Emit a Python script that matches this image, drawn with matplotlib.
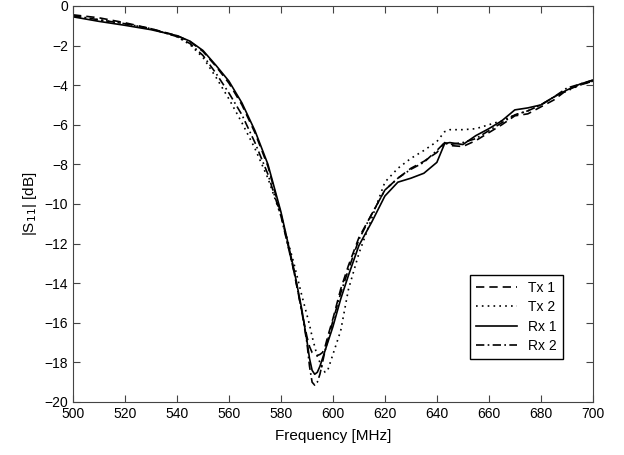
import matplotlib
matplotlib.use("Agg")
import matplotlib.pyplot as plt

plt.rcParams["font.family"] = ["Liberation Sans", "DejaVu Sans"]

freq = [500, 510, 520, 530, 540, 545, 550, 555, 560, 565, 570, 575, 580, 585, 588,
        590, 591, 592, 593, 594, 595, 596, 597, 598, 600, 603, 606, 610, 615, 620, 625, 630,
        635, 640, 643, 645, 650, 655, 660, 665, 670, 675, 680, 685, 690, 695, 700]

tx1 = [-0.45, -0.6, -0.85, -1.15, -1.5, -1.8, -2.3, -3.05, -3.9, -5.0, -6.4, -8.1, -10.5, -13.4, -15.4,
       -16.7, -17.2, -17.5, -17.6, -17.65, -17.6, -17.5, -17.2, -16.7, -15.8, -14.3, -13.1, -11.7, -10.5, -9.3, -8.7, -8.2,
       -7.85, -7.4, -6.9, -7.05, -7.1, -6.8, -6.4, -6.0, -5.55, -5.45, -5.1, -4.75, -4.25, -4.0, -3.8]

tx2 = [-0.5, -0.7, -0.9, -1.15, -1.55, -1.95, -2.6, -3.6, -4.7, -5.9, -7.2, -8.7, -10.6, -13.0, -14.6,
       -15.6, -16.1, -16.7, -17.2, -17.7, -18.0, -18.3, -18.5, -18.4, -17.6, -16.4, -14.3, -12.5, -10.7, -8.9, -8.2, -7.7,
       -7.3, -6.85, -6.35, -6.25, -6.25, -6.2, -6.0, -5.8, -5.5, -5.3, -5.0, -4.6, -4.3, -4.0, -3.8]

rx1 = [-0.55, -0.78, -0.98, -1.2, -1.5, -1.78, -2.25, -3.0, -3.8, -4.9, -6.3, -8.0, -10.4, -13.3, -15.3,
       -16.9, -17.8, -18.4, -18.6, -18.5, -18.2, -17.8, -17.4, -17.0, -16.2, -14.8, -13.6, -12.1, -10.9, -9.6, -8.9, -8.7,
       -8.45, -7.9, -6.95, -6.9, -7.0, -6.55, -6.2, -5.8, -5.25, -5.15, -5.0, -4.6, -4.25, -3.95, -3.75]

rx2 = [-0.5, -0.7, -0.9, -1.15, -1.55, -1.9, -2.5, -3.4, -4.4, -5.5, -6.9, -8.5, -10.6, -13.4, -15.4,
       -17.0, -18.2, -19.0, -19.15, -19.0, -18.6, -18.0, -17.4, -16.9, -15.9, -14.5, -13.3, -11.8, -10.5, -9.3, -8.7, -8.25,
       -7.9, -7.3, -6.9, -7.0, -6.9, -6.7, -6.3, -5.9, -5.5, -5.3, -5.0, -4.6, -4.15, -3.95, -3.75]

fig = plt.figure(figsize=(6.24, 4.55), dpi=100)
ax = fig.add_axes([0.117, 0.1165, 0.833, 0.8705])

ax.plot(freq, tx1, color="black", linestyle=(0, (5, 3)), linewidth=1.2, label="Tx 1")
ax.plot(freq, tx2, color="black", linestyle=(0, (1, 2.5)), linewidth=1.2, label="Tx 2")
ax.plot(freq, rx1, color="black", linestyle="-", linewidth=1.2, label="Rx 1")
ax.plot(freq, rx2, color="black", linestyle=(0, (5, 2, 1, 2)), linewidth=1.2, label="Rx 2")

ax.set_xlim(500, 700)
ax.set_ylim(-20, 0)
ax.set_xticks(range(500, 701, 20))
ax.set_yticks(range(-20, 1, 2))
ax.tick_params(direction="in", top=True, right=True, labelsize=10, length=5, color="#444444")
for s in ax.spines.values():
    s.set_color("#444444")

ax.set_xlabel("Frequency [MHz]", fontsize=11, labelpad=6)
ax.set_ylabel("|S$_{11}$| [dB]", fontsize=11)

leg = ax.legend(loc="lower right", bbox_to_anchor=(0.942, 0.109), borderaxespad=0,
                fontsize=10, labelspacing=0.4, fancybox=False, framealpha=1,
                edgecolor="black", handlelength=3)
leg.get_frame().set_linewidth(1.0)

fig.savefig("out.png", dpi=100)
